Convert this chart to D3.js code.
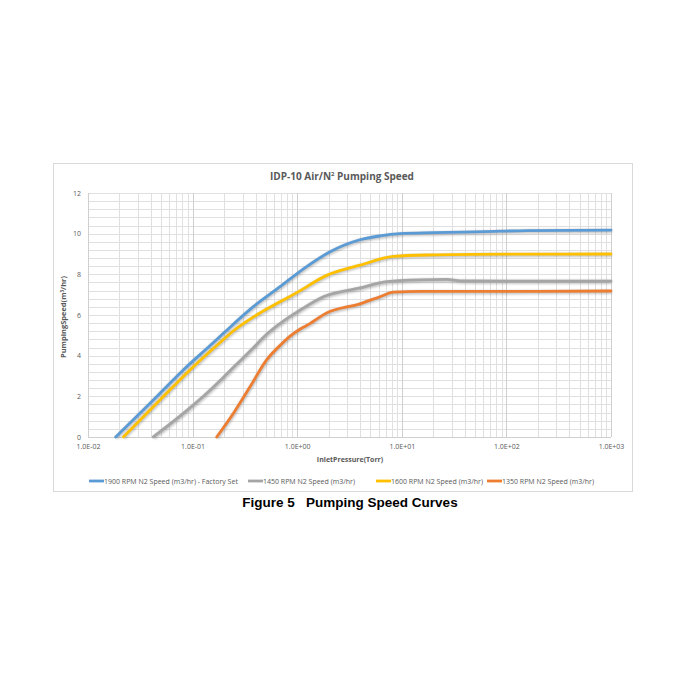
<!DOCTYPE html>
<html><head><meta charset="utf-8">
<script src="https://cdn.jsdelivr.net/npm/d3@7"></script>
<style>
html,body{margin:0;padding:0;background:#fff;}
svg{display:block;}
</style></head>
<body>
<svg id="chart" width="700" height="700"></svg>
<script>
// ---- data ----
const seriesNames = [
  "1900 RPM N2 Speed (m3/hr) - Factory Set",
  "1450 RPM N2 Speed (m3/hr)",
  "1600 RPM N2 Speed (m3/hr)",
  "1350 RPM N2 Speed (m3/hr)"
];
const seriesColors = ["#5b9bd5", "#a5a5a5", "#ffc000", "#ed7d31"];

const p1900 = [0.0184, 0.0392, 0.0815, 0.147, 0.197, 0.381, 0.685, 1.23, 2.06, 3.98, 6.2, 9.6, 20, 61, 157, 1000];
const s1900 = [0, 1.66, 3.3, 4.5, 5.1, 6.41, 7.39, 8.38, 9.11, 9.7, 9.89, 10.0, 10.05, 10.1, 10.15, 10.17];

const p1450 = [0.042, 0.0815, 0.13, 0.19, 0.26, 0.367, 0.51, 0.76, 1.0, 1.78, 3.98, 7.2, 15, 27, 36.5, 100, 1000];
const s1450 = [0, 1.16, 2.05, 2.85, 3.55, 4.3, 5.05, 5.75, 6.15, 6.9, 7.33, 7.64, 7.73, 7.75, 7.68, 7.67, 7.67];

const p1600 = [0.0218, 0.0454, 0.0944, 0.17, 0.25, 0.44, 0.685, 0.99, 1.91, 3.98, 8.3, 17.2, 100, 1000];
const s1600 = [0, 1.66, 3.3, 4.5, 5.25, 6.1, 6.65, 7.1, 7.95, 8.45, 8.88, 8.95, 8.99, 9.0];

const p1350 = [0.17, 0.245, 0.354, 0.51, 0.70, 0.85, 1.06, 1.23, 1.91, 3.98, 6.2, 8.3, 14.9, 100, 1000];
const s1350 = [0, 1.16, 2.47, 3.79, 4.55, 4.95, 5.3, 5.48, 6.1, 6.55, 6.9, 7.12, 7.16, 7.16, 7.18];

const xTickValues = [0.01, 0.1, 1, 10, 100, 1000];
const xTickLabels = ["1.0E-02", "1.0E-01", "1.0E+00", "1.0E+01", "1.0E+02", "1.0E+03"];
const yTickValues = [0, 2, 4, 6, 8, 10, 12];

const series = [
  {name: seriesNames[0], color: seriesColors[0], p: p1900, s: s1900},
  {name: seriesNames[1], color: seriesColors[1], p: p1450, s: s1450},
  {name: seriesNames[2], color: seriesColors[2], p: p1600, s: s1600},
  {name: seriesNames[3], color: seriesColors[3], p: p1350, s: s1350}
];

// ---- layout ----
const svg = d3.select("#chart");
const font = "'Open Sans', 'Liberation Sans', sans-serif";
const textCol = "#595959";

const plot = {left: 88, right: 611, top: 193, bottom: 437};
const x = d3.scaleLog().domain([0.01, 1000]).range([plot.left, plot.right]);
const y = d3.scaleLinear().domain([0, 12]).range([plot.bottom, plot.top]);

// chart area frame
svg.append("rect").attr("x", 53.5).attr("y", 163.5).attr("width", 579).attr("height", 328)
  .attr("fill", "#fff").attr("stroke", "#d9d9d9").attr("stroke-width", 1);

// shadow filter
const defs = svg.append("defs");
const f = defs.append("filter").attr("id", "sh").attr("x", "-5%").attr("y", "-20%").attr("width", "110%").attr("height", "140%");
f.append("feGaussianBlur").attr("stdDeviation", 1.2);

// grid
const g = svg.append("g");
const hLines = d3.range(0, 12.01, 0.4);
g.selectAll("line.h").data(hLines).join("line")
  .attr("x1", plot.left).attr("x2", plot.right)
  .attr("y1", d => Math.round(y(d)) + 0.5).attr("y2", d => Math.round(y(d)) + 0.5)
  .attr("stroke", "#e0e0e0").attr("stroke-width", 1);
const vMinor = [];
for (let e = -2; e < 3; e++) for (let k = 2; k <= 9; k++) vMinor.push(k * Math.pow(10, e));
g.selectAll("line.vm").data(vMinor).join("line")
  .attr("y1", plot.top).attr("y2", plot.bottom)
  .attr("x1", d => Math.round(x(d)) + 0.5).attr("x2", d => Math.round(x(d)) + 0.5)
  .attr("stroke", "#e0e0e0").attr("stroke-width", 1);
g.selectAll("line.vM").data(xTickValues).join("line")
  .attr("y1", plot.top).attr("y2", plot.bottom)
  .attr("x1", d => Math.round(x(d)) + 0.5).attr("x2", d => Math.round(x(d)) + 0.5)
  .attr("stroke", "#cfcfcf").attr("stroke-width", 1);
g.append("line").attr("x1", plot.left).attr("x2", plot.right)
  .attr("y1", Math.round(y(0)) + 0.5).attr("y2", Math.round(y(0)) + 0.5)
  .attr("stroke", "#cfcfcf");

// axes (labels only)
const xAxis = d3.axisBottom(x).tickValues(xTickValues).tickFormat((d, i) => xTickLabels[i]).tickSize(0).tickPadding(7);
const xg = svg.append("g").attr("transform", `translate(0,${plot.bottom})`).call(xAxis);
xg.select(".domain").remove();
xg.selectAll("text").attr("font-family", font).attr("font-size", 7).attr("fill", textCol);

const yAxis = d3.axisLeft(y).tickValues(yTickValues).tickSize(0).tickPadding(7);
const yg = svg.append("g").attr("transform", `translate(${plot.left},0)`).call(yAxis);
yg.select(".domain").remove();
yg.selectAll("text").attr("font-family", font).attr("font-size", 7).attr("fill", textCol);

// lines
const line = d3.line().x(d => x(d[0])).y(d => y(d[1])).curve(d3.curveMonotoneX);
const lg = svg.append("g");
series.forEach(sr => {
  const pts = sr.p.map((p, i) => [p, sr.s[i]]);
  lg.append("path").attr("d", line(pts)).attr("fill", "none")
    .attr("stroke", "#000").attr("stroke-opacity", 0.22).attr("stroke-width", 4)
    .attr("transform", "translate(0.6,1)").attr("filter", "url(#sh)");
  lg.append("path").attr("d", line(pts)).attr("fill", "none")
    .attr("stroke", sr.color).attr("stroke-width", 2.8)
    .attr("stroke-linejoin", "round").attr("stroke-linecap", "round");
});

// title
svg.append("text").attr("x", 342).attr("y", 180).attr("text-anchor", "middle")
  .attr("font-family", font).attr("font-size", 10).attr("font-weight", "bold").attr("fill", textCol)
  .html('IDP-10 Air/N<tspan font-size="6" dy="-4">2</tspan><tspan dy="4"> Pumping Speed</tspan>');

// axis titles
svg.append("text").attr("x", 350).attr("y", 462).attr("text-anchor", "middle")
  .attr("font-family", font).attr("font-size", 7).attr("font-weight", "bold").attr("fill", textCol)
  .text("InletPressure(Torr)");
svg.append("text").attr("transform", "translate(66,317) rotate(-90)").attr("text-anchor", "middle")
  .attr("font-family", font).attr("font-size", 7.5).attr("font-weight", "bold").attr("fill", textCol)
  .html('PumpingSpeed(m<tspan font-size="4.5" dy="-2.5">3</tspan><tspan dy="2.5">/hr)</tspan>');

// legend
const legX = [89, 248, 376, 487];
const leg = svg.append("g");
series.forEach((sr, i) => {
  leg.append("line").attr("x1", legX[i]).attr("x2", legX[i] + 15).attr("y1", 481).attr("y2", 481)
    .attr("stroke", sr.color).attr("stroke-width", 2.8);
  leg.append("text").attr("x", legX[i] + 15).attr("y", 483.5)
    .attr("font-family", font).attr("font-size", 7).attr("fill", textCol).text(sr.name);
});

// caption
svg.append("text").attr("x", 350).attr("y", 507).attr("text-anchor", "middle")
  .attr("font-family", "'Liberation Sans', Arial, sans-serif").attr("font-size", 13.5).attr("font-weight", "bold")
  .attr("fill", "#000").style("white-space", "pre")
  .text("Figure 5   Pumping Speed Curves");
</script>
</body></html>
